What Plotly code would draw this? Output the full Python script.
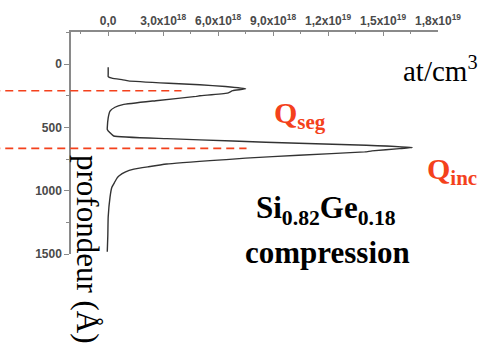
import plotly.graph_objects as go

# ---- data ----
depth = [24, 79, 97, 110, 123, 131, 150, 162, 176, 194, 209, 228, 249, 254, 288, 319, 340, 371,
         424, 502, 515, 542, 567, 588, 607, 625, 640, 658, 667, 685, 693, 719, 742, 750, 789,
         810, 829, 850, 881, 900, 933, 973, 1051, 1208, 1350, 1482]
conc = [0.0, 0.0, 0.0, 0.2, 0.8, 1.1, 3.3, 5.0, 6.4, 7.5, 6.8, 6.5, 5.0, 4.8, 2.6, 0.8, 0.37, 0.1,
        0.0, -0.05, -0.05, 0.1, 0.3, 3.2, 6.8, 10.4, 14.1, 16.6, 15.9, 14.4, 14.0, 10.4, 7.5, 6.8, 3.2,
        2.2, 1.4, 0.95, 0.6, 0.48, 0.35, 0.2, 0.1, 0.0, -0.02, -0.05]
conc = [c * 1e18 for c in conc]

x_tickvals = [0, 3e18, 6e18, 9e18, 1.2e19, 1.5e19, 1.8e19]
x_ticktext = ["0,0", "3,0x10<sup>18</sup>", "6,0x10<sup>18</sup>", "9,0x10<sup>18</sup>",
              "1,2x10<sup>19</sup>", "1,5x10<sup>19</sup>", "1,8x10<sup>19</sup>"]
y_tickvals = [0, 500, 1000, 1500]
y_ticktext = ["0", "500", "1000", "1500"]

q_depth = [209, 665]          # depth of the two dashed marker lines (Å)
q_end = [4.0e18, 7.55e18]     # concentration where each dashed line stops

X_RANGE = [-2.03e18, 1.8e19]
Y_RANGE = [1500, -255]

RED = "#f4411c"
W, H = 493, 351
ML, MR, MT, MB = 71, 55, 30, 97


def px(x):
    return (x - ML) / (W - ML - MR)


def py(y):
    return (H - MB - y) / (H - MT - MB)


fig = go.Figure()
fig.add_trace(go.Scatter(x=conc, y=depth, mode="lines",
                         line=dict(color="#333333", width=1.4, shape="spline", smoothing=0.4),
                         showlegend=False, hoverinfo="skip"))

for d, e in zip(q_depth, q_end):
    fig.add_shape(type="line", xref="paper", yref="y",
                  x0=-0.25, x1=(e - X_RANGE[0]) / (X_RANGE[1] - X_RANGE[0]),
                  y0=d, y1=d, line=dict(color=RED, width=1.6, dash="8px,5px"))

serif = "Liberation Serif, Times New Roman, serif"
anns = [
    dict(text="at/cm<sup>3</sup>", x=px(440), y=py(67), font=dict(family=serif, size=29, color="black")),
    dict(text="<b>Q<sub>seg</sub></b>", x=px(300), y=py(114), font=dict(family=serif, size=30, color=RED)),
    dict(text="<b>Q<sub>inc</sub></b>", x=px(452), y=py(170), font=dict(family=serif, size=30, color=RED)),
    dict(text="<b>Si<sub>0.82</sub>Ge<sub>0.18</sub></b>", x=px(326), y=py(210),
         font=dict(family=serif, size=31, color="black")),
    dict(text="<b>compression</b>", x=px(327), y=py(252), font=dict(family=serif, size=31, color="black")),
    dict(text="profondeur (Å)", x=px(88), y=py(249), textangle=90,
         font=dict(family=serif, size=31, color="black")),
]
for a in anns:
    fig.add_annotation(xref="paper", yref="paper", showarrow=False,
                       xanchor="center", yanchor="middle", **a)

tickfont = dict(family="Liberation Sans, Arial, sans-serif", size=12, color="#4a4a4a")
fig.update_xaxes(range=X_RANGE, side="top", tickvals=x_tickvals,
                 ticktext=["<b>" + t + "</b>" for t in x_ticktext],
                 showgrid=False, zeroline=False, showline=True, linecolor="#8a8a8a", linewidth=1.5,
                 ticks="inside", ticklen=4, tickcolor="#8a8a8a", tickwidth=1.2, tickfont=tickfont,
                 minor=dict(ticks="inside", ticklen=2, dtick=1.5e18, tick0=0, tickcolor="#8a8a8a"))
fig.update_yaxes(range=Y_RANGE, tickvals=y_tickvals,
                 ticktext=["<b>" + t + "</b>" for t in y_ticktext],
                 showgrid=False, zeroline=False,
                 showline=True, linecolor="#8a8a8a", linewidth=1.5,
                 ticks="outside", ticklen=5, tickcolor="#8a8a8a", tickwidth=1.2, tickfont=tickfont,
                 minor=dict(ticks="outside", ticklen=3, dtick=250, tick0=0, tickcolor="#8a8a8a"))
fig.update_layout(width=W, height=H, margin=dict(l=ML, r=MR, t=MT, b=MB),
                  paper_bgcolor="white", plot_bgcolor="white")
fig.write_html("out.html")
